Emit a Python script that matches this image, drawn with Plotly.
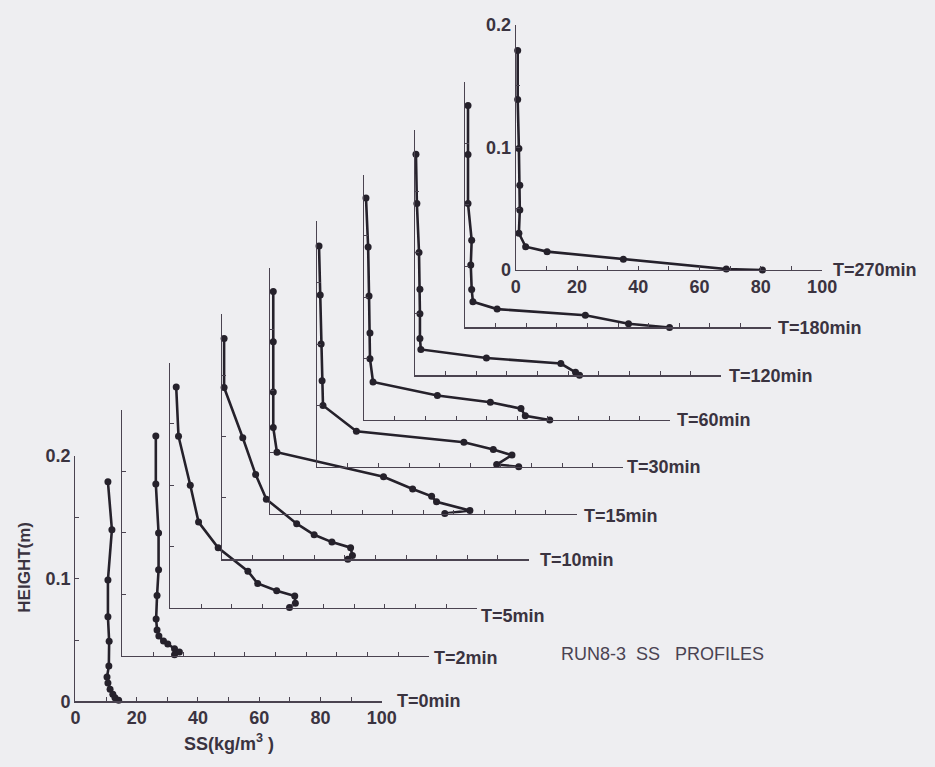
import plotly.graph_objects as go

# ---------------- data ----------------
times = [0, 2, 5, 10, 15, 30, 60, 120, 180, 270]  # minutes

ss_t0 = [10.6, 11.9, 10.6, 10.6, 11.0, 10.9, 10.3, 10.6, 11.3, 12.2, 12.9, 14.1]
h_t0 = [0.179, 0.140, 0.099, 0.069, 0.049, 0.029, 0.020, 0.015, 0.010, 0.006, 0.003, 0.001]

ss_t2 = [10.9, 10.9, 11.8, 11.8, 11.3, 11.0, 11.3, 11.9, 13.4, 14.8, 17.0, 18.6, 17.0]
h_t2 = [0.179, 0.140, 0.100, 0.070, 0.049, 0.030, 0.021, 0.016, 0.012, 0.0095, 0.0056, 0.003, 0.0008]

ss_t5 = [1.9, 2.65, 6.5, 9.2, 15.6, 25.3, 28.5, 34.7, 40.6, 40.8, 38.9]
h_t5 = [0.180, 0.140, 0.100, 0.070, 0.049, 0.030, 0.020, 0.014, 0.0098, 0.0038, 0.0005]

ss_t10 = [0.6, 0.6, 6.7, 10.9, 14.4, 24.3, 30.0, 35.8, 41.9, 42.5, 41.0]
h_t10 = [0.180, 0.140, 0.099, 0.069, 0.049, 0.029, 0.020, 0.014, 0.0095, 0.003, 0.0]

ss_t15 = [1.0, 1.0, 1.0, 1.0, 2.2, 37.0, 46.5, 52.7, 54.3, 65.2, 57.0]
h_t15 = [0.181, 0.140, 0.099, 0.070, 0.050, 0.030, 0.020, 0.014, 0.0095, 0.0024, 0.0]

ss_t30 = [0.6, 1.0, 1.3, 1.6, 1.9, 12.8, 47.9, 57.5, 63.6, 58.6, 65.8]
h_t30 = [0.180, 0.140, 0.100, 0.070, 0.050, 0.029, 0.020, 0.014, 0.0095, 0.0018, 0.0]

ss_t60 = [0.6, 1.3, 1.6, 1.9, 1.9, 2.9, 23.9, 41.2, 51.2, 52.6, 60.6]
h_t60 = [0.181, 0.141, 0.101, 0.071, 0.050, 0.031, 0.020, 0.0145, 0.0093, 0.0034, 0.0]

ss_t120 = [0.3, 0.6, 1.3, 1.6, 1.6, 1.6, 1.9, 23.3, 47.6, 52.4, 53.7]
h_t120 = [0.180, 0.140, 0.100, 0.070, 0.050, 0.030, 0.021, 0.014, 0.0095, 0.0024, 0.0]

ss_t180 = [1.0, 1.0, 1.0, 2.2, 1.9, 2.2, 2.6, 10.5, 39.3, 53.4, 66.8]
h_t180 = [0.181, 0.141, 0.101, 0.071, 0.051, 0.031, 0.021, 0.015, 0.010, 0.003, 0.0]

ss_t270 = [0.6, 0.6, 1.0, 1.3, 1.3, 1.0, 3.2, 10.2, 35.1, 68.7, 80.5]
h_t270 = [0.179, 0.139, 0.099, 0.069, 0.049, 0.030, 0.019, 0.015, 0.0087, 0.0008, 0.0]

x_major = [0, 20, 40, 60, 80, 100]
x_major_labels = ["0", "20", "40", "60", "80", "100"]
x_minor = [10, 30, 50, 70, 90]
y_major = [0, 0.1, 0.2]
y_major_labels = ["0", "0.1", "0.2"]
y_minor = [0.05, 0.15]

profiles = [
    (ss_t0, h_t0), (ss_t2, h_t2), (ss_t5, h_t5), (ss_t10, h_t10), (ss_t15, h_t15),
    (ss_t30, h_t30), (ss_t60, h_t60), (ss_t120, h_t120), (ss_t180, h_t180), (ss_t270, h_t270),
]

# ---------------- layout (positions / styles) ----------------
W, H = 935, 767
origin_px = [(72, 710), (120, 663), (169, 614), (222, 564), (271, 517),
             (319, 469), (367, 421), (419, 375), (470, 326), (522, 267)]
box_w, box_h = 313, 252
label_shift = [(13, 0), (3, -2), (2, -8), (9, -1), (5, -2), (2, 0), (5, 0), (6, -1), (5, 0), (9, 0)]
labelled = {0, 9}

FONT = "Liberation Sans, Arial, sans-serif"
TXT = "#3a3340"
AX = "#4a4350"
INK = "#25212b"
BG = "#eeeef1"

fig = go.Figure()
layout = dict(
    width=W, height=H,
    margin=dict(l=0, r=0, t=0, b=0),
    paper_bgcolor=BG, plot_bgcolor="rgba(0,0,0,0)",
    showlegend=False,
    font=dict(family=FONT, color=TXT, size=18),
)
annotations = []

for i, ((ss, hh), t) in enumerate(zip(profiles, times)):
    n = "" if i == 0 else str(i + 1)
    x0, y0 = origin_px[i]
    fig.add_trace(go.Scatter(
        x=ss, y=hh, xaxis="x" + n, yaxis="y" + n,
        mode="lines+markers",
        line=dict(color=INK, width=2.6),
        marker=dict(color=INK, size=7),
        cliponaxis=False, name=f"T={t}min",
    ))
    show = i in labelled
    common = dict(
        showline=True, linecolor=AX, linewidth=1.3,
        ticks="inside", ticklen=4, tickwidth=1, tickcolor=AX,
        showticklabels=show,
        tickfont=dict(family=FONT, size=18, color=TXT, weight="bold"),
        showgrid=False, zeroline=False, fixedrange=True,
    )
    layout["xaxis" + n] = dict(
        domain=[x0 / W, (x0 + box_w) / W], range=[0, 100], anchor="y" + n,
        tickmode="array", tickvals=x_major, ticktext=x_major_labels,
        minor=dict(tickmode="array", tickvals=x_minor, ticks="inside", ticklen=4,
                   tickwidth=1, tickcolor=AX, showgrid=False),
        **common,
    )
    layout["yaxis" + n] = dict(
        domain=[1 - y0 / H, 1 - (y0 - box_h) / H], range=[0, 0.2], anchor="x" + n,
        tickmode="array", tickvals=y_major, ticktext=y_major_labels,
        minor=dict(tickmode="array", tickvals=y_minor, ticks="inside", ticklen=4,
                   tickwidth=1, tickcolor=AX, showgrid=False),
        **common,
    )
    dx, dy = label_shift[i]
    annotations.append(dict(
        text=f"T={t}min", xref="x" + n, yref="y" + n, x=100, y=0,
        xanchor="left", yanchor="middle", xshift=dx, yshift=dy, showarrow=False,
        font=dict(family=FONT, size=18, color=TXT, weight="bold"),
    ))

annotations.append(dict(
    text="HEIGHT(m)", xref="paper", yref="paper", x=20 / W, y=1 - 572 / H,
    textangle=-90, showarrow=False, xanchor="center", yanchor="middle",
    font=dict(family=FONT, size=17, color=TXT, weight="bold"),
))
annotations.append(dict(
    text="SS(kg/m<sup>3</sup> )", xref="paper", yref="paper", x=229 / W, y=1 - 752 / H,
    showarrow=False, xanchor="center", yanchor="middle",
    font=dict(family=FONT, size=18, color=TXT, weight="bold"),
))
annotations.append(dict(
    text="RUN8-3\u00a0\u00a0SS\u00a0\u00a0\u00a0PROFILES", xref="paper", yref="paper",
    x=566 / W, y=1 - 661 / H, showarrow=False, xanchor="left", yanchor="middle",
    font=dict(family=FONT, size=18, color="#4a4352"),
))
layout["annotations"] = annotations
fig.update_layout(**layout)
fig.write_html(
    "out.html",
    config={"displayModeBar": False, "staticPlot": True},
    post_script="document.body.style.margin='0';document.body.style.background='%s';" % BG,
)
